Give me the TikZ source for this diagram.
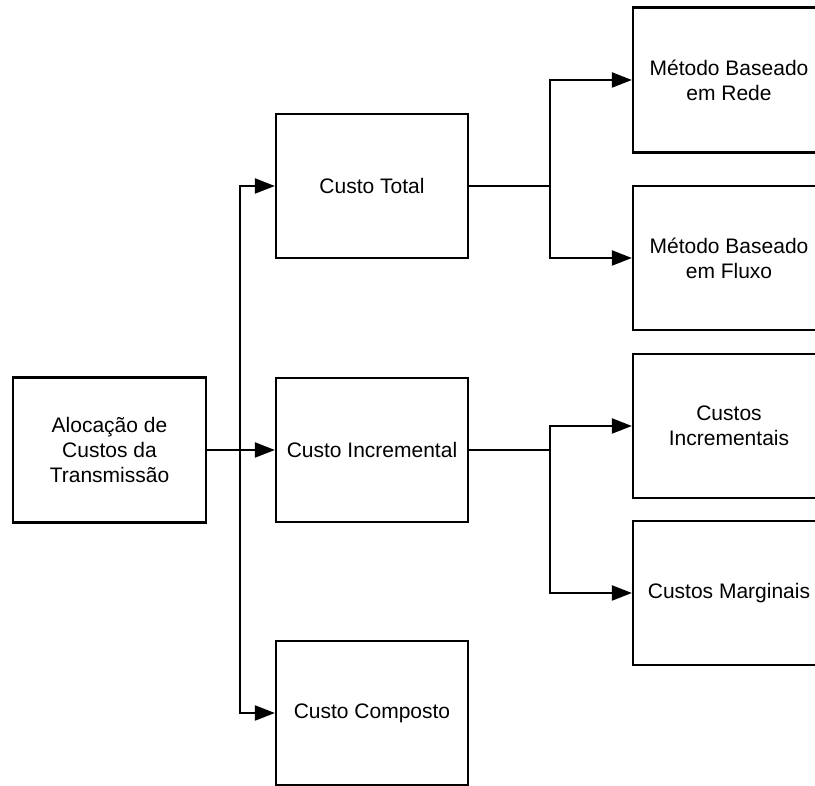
\documentclass[tikz,border=0pt]{standalone}
\usepackage{fontspec}
\setmainfont{Liberation Sans}
\usepackage{xcolor}
\usepackage{tikz}
\usetikzlibrary{arrows.meta, positioning, calc}

\begin{document}
\begin{tikzpicture}[
                x=1pt, y=1pt,
                block/.style={rectangle, draw, line width=2.2pt, minimum width=192pt, minimum height=144pt, align=center, font=\fontsize{21}{25}\selectfont},
                link/.style={line width=2pt},
                arrow/.style={link, -{Triangle[length=20pt, width=15pt]}}
            ]
                \useasboundingbox (0,0) rectangle (815,786);
                \clip (0,0) rectangle (815,786);

                % Tree Nodes
                \node[block, minimum width=193pt, minimum height=145pt] (alloc) at (109.5,336) {Alocação de\\Custos da\\Transmissão};
                \node[block] (total) at (372,600) {Custo Total};
                \node[block] (incr) at (372,336) {Custo Incremental};
                \node[block] (comp) at (372,73) {Custo Composto};
                \node[block, minimum height=145pt] (rede) at (729,706) {Método Baseado\\em Rede};
                \node[block] (fluxo) at (729,528) {Método Baseado\\em Fluxo};
                \node[block] (incs) at (729,360) {Custos\\Incrementais};
                \node[block] (marg) at (729,193) {Custos Marginais};

                % Branch points
                \coordinate (trunk) at (240,336);
                \coordinate (brT) at (550,600);
                \coordinate (brI) at (550,336);

                % Edges
                \draw[arrow] (alloc) -- (incr);
                \draw[arrow] (trunk) |- (total.west);
                \draw[arrow] (trunk) |- (comp.west);

                \draw[link] (total.east) -- (brT);
                \draw[arrow] (brT) |- (rede.west);
                \draw[arrow] (brT) |- (fluxo.west);

                \draw[link] (incr.east) -- (brI);
                \draw[arrow] (brI) |- (incs.west);
                \draw[arrow] (brI) |- (marg.west);
            \end{tikzpicture}
\end{document}
